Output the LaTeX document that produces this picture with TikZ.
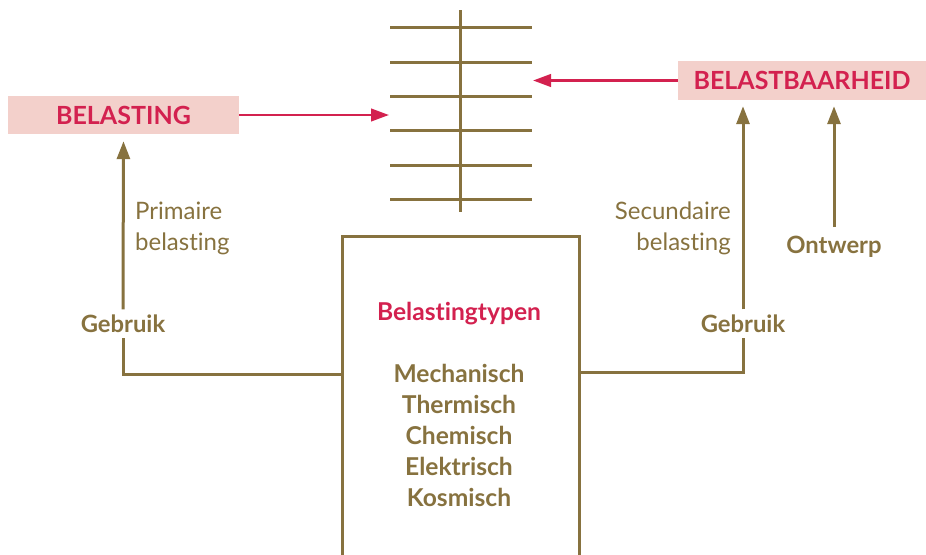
\documentclass[tikz,border=0pt]{standalone}
\usepackage{fontspec}
\setmainfont{Lato}[Ligatures={NoCommon,NoDiscretionary}]
\usetikzlibrary{arrows.meta}
\definecolor{olivebr}{HTML}{87723F}
\definecolor{crim}{HTML}{D3214F}
\definecolor{pinkbg}{HTML}{F3D0CB}
\tikzset{
  olv/.style={draw=olivebr, line width=3pt},
  crl/.style={draw=crim, line width=2.6pt},
  otip/.style={-{Triangle[length=18pt,width=13pt]}},
  ctip/.style={-{Triangle[length=18pt,width=12.5pt]}},
  titlebox/.style={fill=pinkbg, text=crim, font=\fontsize{25}{30}\selectfont\bfseries, inner sep=0pt, minimum height=38pt},
  lbl/.style={text=olivebr, font=\fontsize{23.8}{31}\selectfont\bfseries, inner sep=0pt, minimum height=28pt},
  note/.style={text=olivebr, font=\fontsize{24}{31}\selectfont, inner sep=0pt, align=left},
  typ/.style={font=\fontsize{24.6}{31}\selectfont\bfseries, inner sep=0pt, align=center},
}
\begin{document}
\begin{tikzpicture}[x=1pt,y=-1pt]
\useasboundingbox (0,0) rectangle (926,554);
% ladder
\draw[olv] (460,10) -- (460,212);
\foreach \yy in {27,62,96,130,165,199} \draw[olv] (390,\yy) -- (532,\yy);
\coordinate (ladL) at (389,115);
\coordinate (ladR) at (533,80.5);
% title boxes
\node[titlebox, minimum width=231pt] (bel) at (123.5,115) {BELASTING};
\node[titlebox, minimum width=248pt, minimum height=39pt] (bb) at (802,80.5) {BELASTBAARHEID};
\draw[crl, ctip] (bel.east) -- (ladL);
\draw[crl, ctip] (bb.west) -- (ladR);
% central box
\coordinate (bxTL) at (342,236);
\coordinate (bxTR) at (579,236);
\draw[olv] (342,560) -- (bxTL) -- (bxTR) -- (579,560);
\node[typ, text=crim] (bt) at (459,314) {Belastingtypen};
\node[typ, text=olivebr] (types) at (459,435)
 {Mechanisch\\Thermisch\\Chemisch\\Elektrisch\\Kosmisch};
\coordinate (bxL) at (342,374);
\coordinate (bxR) at (579,372);
% left branch
\node[lbl] (gl) at (123,323.5) {Gebruik};
\draw[olv] (bxL) -| (gl.south);
\draw[olv, otip, shorten >=7pt] (gl.north) -- (bel.south);
\node[note, anchor=west] (prim) at (135,228) {Primaire\\belasting};
% right branch
\node[lbl] (gr) at (743,323.5) {Gebruik};
\draw[olv] (bxR) -| (gr.south);
\draw[olv, otip, shorten >=6pt] (gr.north) -- (gr.north |- bb.south);
\node[note, anchor=east, align=right] (sec) at (731,228) {Secundaire\\belasting};
\node[lbl, minimum height=20pt] (ont) at (834,247) {Ontwerp};
\draw[olv, otip, shorten >=6pt, shorten <=9pt] (ont.north) -- (ont.north |- bb.south);
\end{tikzpicture}
\end{document}
